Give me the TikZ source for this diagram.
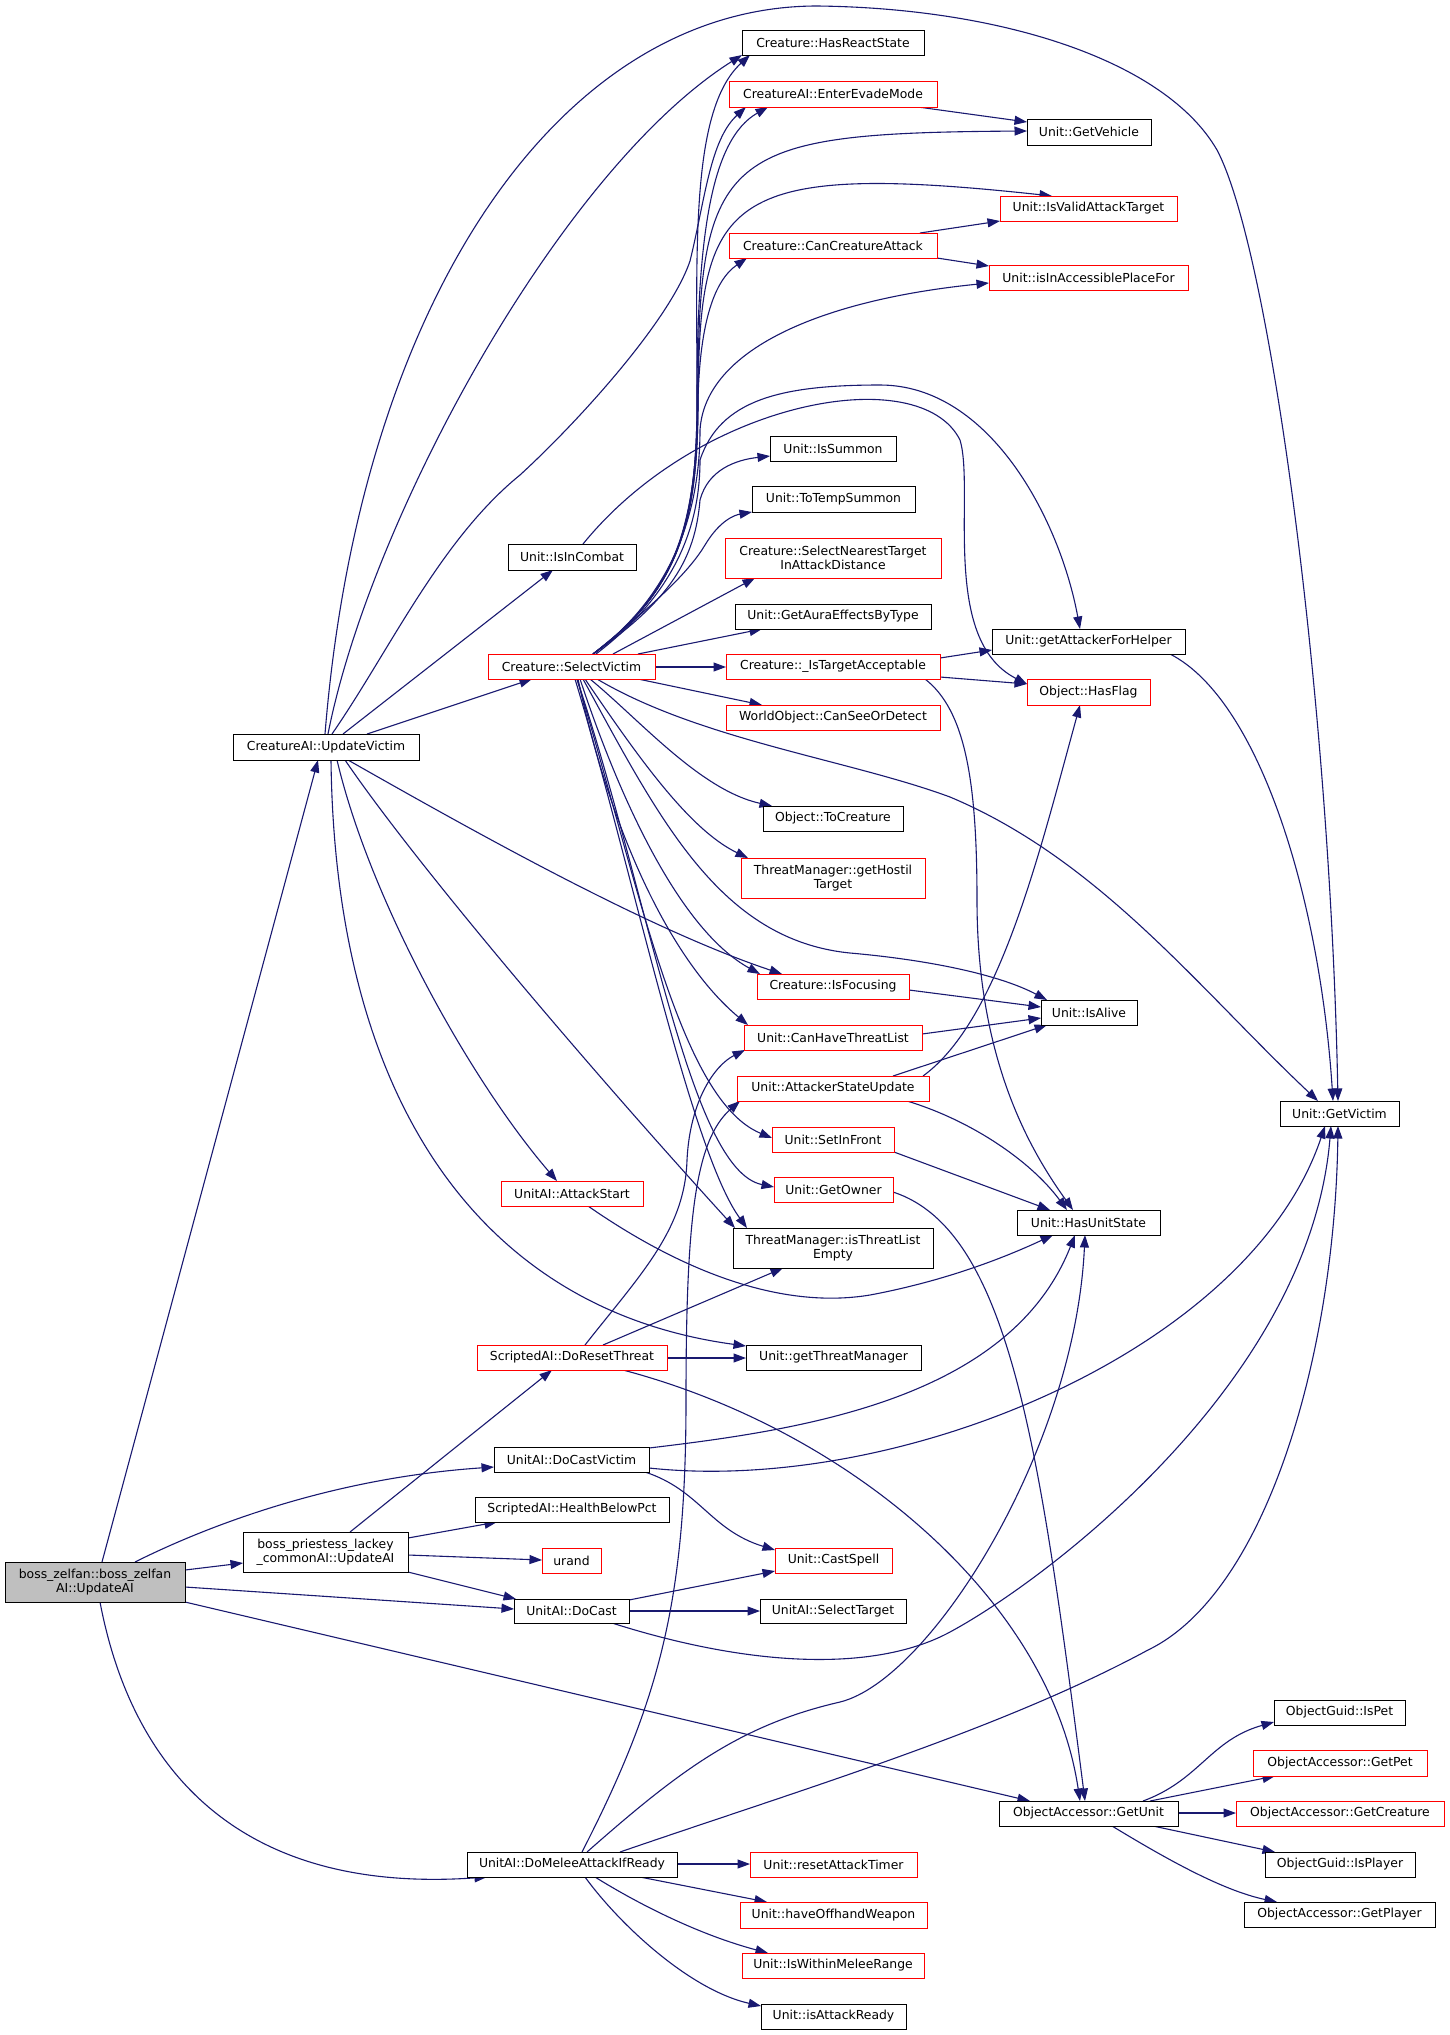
\documentclass[tikz,border=0pt]{standalone}
\usepackage{fontspec}
\newfontfamily\djv{DejaVu Sans}
\usetikzlibrary{arrows.meta,calc}
\definecolor{edgec}{RGB}{25,25,112}
\definecolor{rootfill}{RGB}{191,191,191}
\pgfdeclarelayer{bg}
\pgfsetlayers{bg,main}
\newcommand\mk[7]{\node[#6,minimum width={(#4-#2)*1pt},minimum height={(#5-#3)*1pt}] (#1) at ({(#2+#4)/2},{(#3+#5)/2}) {#7};}
\begin{document}
\begin{tikzpicture}[x=1pt,y=-1pt,
 nd/.style={draw=black,line width=1pt,fill=white,inner sep=0pt,outer sep=0pt,align=center,font=\djv\fontsize{12.4}{14}\selectfont},
 rnd/.style={nd,draw=red},
 root/.style={nd,fill=rootfill},
 ln/.style={draw=edgec,line width=1.1pt,-{Triangle[length=12.5pt,width=9pt]}}]
\useasboundingbox (0,0) rectangle (1449,2035);
\begin{pgfonlayer}{bg}
\fill[white] (0,0) rectangle (1449,2035);
\end{pgfonlayer}
\mk{BZ}{5}{1562}{185}{1602}{root}{boss\_zelfan::boss\_zelfan\\AI::UpdateAI}
\mk{BP}{243}{1532}{408}{1572}{nd}{boss\_priestess\_lackey\\\_commonAI::UpdateAI}
\mk{UV}{233}{734}{419}{760}{nd}{CreatureAI::UpdateVictim}
\mk{DCV}{494}{1447}{649}{1472}{nd}{UnitAI::DoCastVictim}
\mk{HBP}{475}{1497}{669}{1522}{nd}{ScriptedAI::HealthBelowPct}
\mk{UR}{542}{1548}{601}{1573}{rnd}{urand}
\mk{DC}{514}{1599}{629}{1623}{nd}{UnitAI::DoCast}
\mk{DM}{467}{1852}{677}{1877}{nd}{UnitAI::DoMeleeAttackIfReady}
\mk{DRT}{477}{1345}{667}{1370}{rnd}{ScriptedAI::DoResetThreat}
\mk{AS}{501}{1181}{643}{1206}{rnd}{UnitAI::AttackStart}
\mk{SV}{488}{654}{655}{679}{rnd}{Creature::SelectVictim}
\mk{IIC}{508}{544}{636}{570}{nd}{Unit::IsInCombat}
\mk{HRS}{742}{30}{924}{55}{nd}{Creature::HasReactState}
\mk{EEM}{729}{81}{937}{107}{rnd}{CreatureAI::EnterEvadeMode}
\mk{CCA}{729}{233}{937}{258}{rnd}{Creature::CanCreatureAttack}
\mk{IS}{770}{436}{896}{461}{nd}{Unit::IsSummon}
\mk{TTS}{752}{486}{915}{512}{nd}{Unit::ToTempSummon}
\mk{SNT}{725}{538}{941}{578}{rnd}{Creature::SelectNearestTarget\\InAttackDistance}
\mk{GAE}{735}{604}{931}{629}{nd}{Unit::GetAuraEffectsByType}
\mk{ITA}{726}{654}{940}{679}{rnd}{Creature::\_IsTargetAcceptable}
\mk{CSD}{726}{705}{940}{730}{rnd}{WorldObject::CanSeeOrDetect}
\mk{TC}{763}{806}{903}{831}{nd}{Object::ToCreature}
\mk{GHT}{741}{858}{925}{898}{rnd}{ThreatManager::getHostil\\Target}
\mk{IF}{757}{974}{909}{999}{rnd}{Creature::IsFocusing}
\mk{CHT}{744}{1025}{922}{1050}{rnd}{Unit::CanHaveThreatList}
\mk{ASU}{737}{1076}{929}{1101}{rnd}{Unit::AttackerStateUpdate}
\mk{SIF}{772}{1127}{894}{1152}{rnd}{Unit::SetInFront}
\mk{GO}{774}{1177}{893}{1202}{rnd}{Unit::GetOwner}
\mk{ITLE}{733}{1228}{933}{1268}{nd}{ThreatManager::isThreatList\\Empty}
\mk{GTM}{746}{1345}{921}{1370}{nd}{Unit::getThreatManager}
\mk{CS}{775}{1548}{892}{1573}{rnd}{Unit::CastSpell}
\mk{ST}{760}{1599}{906}{1623}{nd}{UnitAI::SelectTarget}
\mk{RAT}{750}{1852}{917}{1877}{rnd}{Unit::resetAttackTimer}
\mk{HOW}{740}{1902}{927}{1928}{rnd}{Unit::haveOffhandWeapon}
\mk{IWMR}{742}{1953}{924}{1978}{rnd}{Unit::IsWithinMeleeRange}
\mk{IAR}{761}{2004}{906}{2029}{nd}{Unit::isAttackReady}
\mk{GV}{1027}{119}{1151}{145}{nd}{Unit::GetVehicle}
\mk{IVAT}{1000}{196}{1177}{221}{rnd}{Unit::IsValidAttackTarget}
\mk{IAPF}{989}{265}{1188}{290}{rnd}{Unit::isInAccessiblePlaceFor}
\mk{GAFH}{992}{629}{1185}{654}{nd}{Unit::getAttackerForHelper}
\mk{HF}{1027}{679}{1150}{705}{rnd}{Object::HasFlag}
\mk{IA}{1041}{1000}{1137}{1025}{nd}{Unit::IsAlive}
\mk{GVic}{1280}{1101}{1399}{1126}{nd}{Unit::GetVictim}
\mk{HUS}{1017}{1210}{1160}{1235}{nd}{Unit::HasUnitState}
\mk{GU}{999}{1801}{1178}{1826}{nd}{ObjectAccessor::GetUnit}
\mk{IP}{1274}{1700}{1405}{1725}{nd}{ObjectGuid::IsPet}
\mk{GP}{1253}{1750}{1427}{1776}{rnd}{ObjectAccessor::GetPet}
\mk{GC}{1236}{1801}{1444}{1826}{rnd}{ObjectAccessor::GetCreature}
\mk{IPl}{1265}{1852}{1415}{1877}{nd}{ObjectGuid::IsPlayer}
\mk{GPl}{1244}{1902}{1435}{1927}{nd}{ObjectAccessor::GetPlayer}
\begin{pgfonlayer}{bg}
% boss_zelfan
\draw[ln] ($(BZ.north west)+(97,0)$) -- ($(UV.north west)+(85,26)$);
\draw[ln] ($(BZ.north west)+(130,0)$) .. controls (205,1527) and (330,1478) .. ($(DCV.north west)+(0,20)$);
\draw[ln] ($(BZ.north west)+(180,8)$) -- ($(BP.north west)+(0,31)$);
\draw[ln] ($(BZ.north west)+(180,25)$) -- ($(DC.north west)+(0,10)$);
\draw[ln] ($(BZ.north west)+(180,40)$) -- ($(GU.north west)+(31,0)$);
\draw[ln] ($(BZ.north west)+(95,40)$) .. controls (130,1760) and (230,1895) .. ($(DM.north west)+(20,25)$);
% boss_priestess
\draw[ln] ($(BP.north west)+(107,0)$) -- ($(DRT.north west)+(75,25)$);
\draw[ln] ($(BP.north west)+(165,6)$) -- ($(HBP.north west)+(22,25)$);
\draw[ln] ($(BP.north west)+(165,23)$) -- ($(UR.north west)+(0,12)$);
\draw[ln] ($(BP.north west)+(165,40)$) -- ($(DC.north west)+(2,0)$);
% DoCastVictim
\draw[ln] ($(DCV.north west)+(155,1)$) .. controls (800,1430) and (1010,1400) .. ($(HUS.north west)+(58,25)$);
\draw[ln] ($(DCV.north west)+(155,21)$) .. controls (900,1495) and (1250,1350) .. ($(GVic.north west)+(45,25)$);
\draw[ln] ($(DCV.north west)+(151,25)$) .. controls (700,1490) and (710,1530) .. ($(CS.north west)+(0,2)$);
% DoCast
\draw[ln] ($(DC.north west)+(115,1)$) -- ($(CS.north west)+(0,23)$);
\draw[ln] ($(DC.north west)+(115,12)$) -- ($(ST.north west)+(0,12)$);
\draw[ln] ($(DC.north west)+(98,24)$) .. controls (760,1670) and (880,1670) .. (950,1632) .. controls (1050,1578) and (1310,1380) .. ($(GVic.north west)+(51,25)$);
% DoMeleeAttackIfReady
\draw[ln] ($(DM.north west)+(210,12)$) -- ($(RAT.north west)+(0,12)$);
\draw[ln] ($(DM.north west)+(173,25)$) -- ($(HOW.north west)+(27,0)$);
\draw[ln] ($(DM.north west)+(128,25)$) .. controls (640,1905) and (700,1935) .. ($(IWMR.north west)+(26,0)$);
\draw[ln] ($(DM.north west)+(118,25)$) .. controls (620,1925) and (690,1990) .. ($(IAR.north west)+(0,2)$);
\draw[ln] ($(DM.north west)+(115,0)$) .. controls (660,1700) and (686,1600) .. (686,1400) .. controls (686,1220) and (695,1140) .. ($(ASU.north west)+(3,25)$);
\draw[ln] ($(DM.north west)+(120,0)$) .. controls (680,1770) and (740,1725) .. (840,1702) .. controls (930,1680) and (1075,1450) .. ($(HUS.north west)+(68,25)$);
\draw[ln] ($(DM.north west)+(153,0)$) .. controls (800,1790) and (1000,1730) .. (1148,1650) .. controls (1268,1592) and (1335,1350) .. ($(GVic.north west)+(58,25)$);
% DoResetThreat
\draw[ln] ($(DRT.north west)+(108,0)$) .. controls (640,1275) and (685,1230) .. (687,1160) .. controls (690,1100) and (715,1065) .. ($(CHT.north west)+(1,25)$);
\draw[ln] ($(DRT.north west)+(126,0)$) -- ($(ITLE.north west)+(50,40)$);
\draw[ln] ($(DRT.north west)+(190,13)$) -- ($(GTM.north west)+(0,13)$);
\draw[ln] ($(DRT.north west)+(146,25)$) .. controls (850,1430) and (1050,1600) .. ($(GU.north west)+(81,0)$);
\draw[ln] ($(GO.north west)+(119,15)$) .. controls (1010,1230) and (1040,1450) .. ($(GU.north west)+(86,0)$);
% UpdateVictim
\draw[ln] ($(UV.north west)+(92,0)$) .. controls (360,300) and (560,6) .. (817,6) .. controls (1000,8) and (1165,60) .. (1217,150) .. controls (1270,250) and (1330,700) .. ($(GVic.north west)+(58,0)$);
\draw[ln] ($(UV.north west)+(95,0)$) .. controls (370,520) and (560,170) .. ($(HRS.north west)+(0,25)$);
\draw[ln] ($(UV.north west)+(99,0)$) .. controls (390,650) and (440,540) .. (520,475) .. controls (580,420) and (670,320) .. (690,261) .. controls (705,200) and (710,140) .. ($(EEM.north west)+(17,26)$);
\draw[ln] ($(UV.north west)+(110,0)$) -- ($(IIC.north west)+(45,26)$);
\draw[ln] ($(UV.north west)+(134,0)$) -- ($(SV.north west)+(44,25)$);
\draw[ln] ($(UV.north west)+(115,26)$) .. controls (480,835) and (650,930) .. ($(IF.north west)+(25,0)$);
\draw[ln] ($(UV.north west)+(112,26)$) .. controls (420,870) and (600,1080) .. ($(ITLE.north west)+(2,0)$);
\draw[ln] ($(UV.north west)+(104,26)$) .. controls (370,900) and (470,1080) .. ($(AS.north west)+(56,0)$);
\draw[ln] ($(UV.north west)+(98,26)$) .. controls (335,1100) and (480,1310) .. ($(GTM.north west)+(0,1)$);
% SelectVictim upward
\draw[ln] ($(SV.north west)+(105,0)$) .. controls (680,590) and (697,520) .. (697,400) .. controls (697,250) and (690,110) .. ($(HRS.north west)+(8,25)$);
\draw[ln] ($(SV.north west)+(105,0)$) .. controls (680,590) and (697,520) .. (697,400) .. controls (697,240) and (710,140) .. ($(EEM.north west)+(39,26)$);
\draw[ln] ($(SV.north west)+(105,0)$) .. controls (680,590) and (698,520) .. (698,380) .. controls (700,150) and (730,133) .. ($(GV.north west)+(0,12)$);
\draw[ln] ($(SV.north west)+(105,0)$) .. controls (680,590) and (698,520) .. (698,400) .. controls (700,200) and (720,160) .. ($(IVAT.north west)+(52,0)$);
\draw[ln] ($(SV.north west)+(105,0)$) .. controls (680,590) and (698,520) .. (698,400) .. controls (700,320) and (715,280) .. ($(CCA.north west)+(18,25)$);
\draw[ln] ($(SV.north west)+(105,0)$) .. controls (680,590) and (700,500) .. (700,430) .. controls (705,350) and (820,300) .. ($(IAPF.north west)+(0,18)$);
\draw[ln] ($(SV.north west)+(108,0)$) .. controls (680,590) and (700,520) .. (700,460) .. controls (720,400) and (780,385) .. (880,385) .. controls (990,385) and (1060,520) .. ($(GAFH.north west)+(88,0)$);
\draw[ln] ($(SV.north west)+(105,0)$) .. controls (670,600) and (695,560) .. (700,500) .. controls (708,470) and (735,460) .. ($(IS.north west)+(0,20)$);
\draw[ln] ($(SV.north west)+(105,0)$) .. controls (660,600) and (690,570) .. (705,545) .. controls (720,520) and (735,515) .. ($(TTS.north west)+(0,26)$);
\draw[ln] ($(SV.north west)+(125,0)$) -- ($(SNT.north west)+(30,40)$);
\draw[ln] ($(SV.north west)+(150,0)$) -- ($(GAE.north west)+(27,25)$);
\draw[ln] ($(SV.north west)+(167,13)$) -- ($(ITA.north west)+(0,13)$);
% SelectVictim downward
\draw[ln] ($(SV.north west)+(150,25)$) -- ($(CSD.north west)+(36,0)$);
\draw[ln] ($(SV.north west)+(102,25)$) .. controls (640,720) and (700,790) .. ($(TC.north west)+(9,0)$);
\draw[ln] ($(SV.north west)+(97,25)$) .. controls (640,760) and (690,830) .. ($(GHT.north west)+(7,0)$);
\draw[ln] ($(SV.north west)+(95,25)$) .. controls (660,820) and (720,940) .. (850,953) .. controls (930,960) and (1000,975) .. ($(IA.north west)+(6,0)$);
\draw[ln] ($(SV.north west)+(92,25)$) .. controls (620,800) and (680,930) .. ($(IF.north west)+(3,0)$);
\draw[ln] ($(SV.north west)+(90,25)$) .. controls (610,830) and (670,960) .. ($(CHT.north west)+(4,0)$);
\draw[ln] ($(SV.north west)+(89,25)$) .. controls (640,890) and (680,1100) .. ($(SIF.north west)+(0,11)$);
\draw[ln] ($(SV.north west)+(89,25)$) .. controls (650,900) and (690,1170) .. ($(GO.north west)+(0,10)$);
\draw[ln] ($(SV.north west)+(87,25)$) .. controls (630,860) and (690,1150) .. ($(ITLE.north west)+(14,0)$);
\draw[ln] ($(SV.north west)+(109,25)$) .. controls (700,740) and (850,760) .. (950,797) .. controls (1100,860) and (1200,990) .. ($(GVic.north west)+(38,0)$);
% IsInCombat
\draw[ln] ($(IIC.north west)+(75,0)$) .. controls (700,400) and (920,360) .. (960,440) .. controls (975,490) and (940,640) .. ($(HF.north west)+(0,5)$);
% others
\draw[ln] ($(EEM.north west)+(189,26)$) -- ($(GV.north west)+(0,3)$);
\draw[ln] ($(CCA.north west)+(191,0)$) -- ($(IVAT.north west)+(0,25)$);
\draw[ln] ($(CCA.north west)+(208,25)$) -- ($(IAPF.north west)+(0,1)$);
\draw[ln] ($(ITA.north west)+(214,4)$) -- ($(GAFH.north west)+(0,21)$);
\draw[ln] ($(ITA.north west)+(214,23)$) -- ($(HF.north west)+(0,5)$);
\draw[ln] ($(ITA.north west)+(199,25)$) .. controls (965,710) and (977,780) .. (977,900) .. controls (977,1060) and (1030,1150) .. ($(HUS.north west)+(56,0)$);
\draw[ln] ($(GAFH.north west)+(178,25)$) .. controls (1260,700) and (1320,900) .. ($(GVic.north west)+(53,0)$);
\draw[ln] ($(IF.north west)+(152,16)$) -- ($(IA.north west)+(0,7)$);
\draw[ln] ($(CHT.north west)+(178,9)$) -- ($(IA.north west)+(0,18)$);
\draw[ln] ($(ASU.north west)+(156,0)$) -- ($(IA.north west)+(6,25)$);
\draw[ln] ($(ASU.north west)+(186,0)$) .. controls (1000,1020) and (1040,850) .. ($(HF.north west)+(53,26)$);
\draw[ln] ($(ASU.north west)+(170,25)$) .. controls (970,1120) and (1030,1160) .. ($(HUS.north west)+(50,0)$);
\draw[ln] ($(SIF.north west)+(122,25)$) -- ($(HUS.north west)+(33,0)$);
\draw[ln] ($(AS.north west)+(87,25)$) .. controls (680,1270) and (780,1310) .. (870,1295) .. controls (950,1280) and (1010,1255) .. ($(HUS.north west)+(36,25)$);
% GetUnit
\draw[ln] ($(GU.north west)+(144,0)$) .. controls (1200,1780) and (1210,1740) .. ($(IP.north west)+(0,22)$);
\draw[ln] ($(GU.north west)+(151,0)$) -- ($(GP.north west)+(22,26)$);
\draw[ln] ($(GU.north west)+(179,12)$) -- ($(GC.north west)+(0,12)$);
\draw[ln] ($(GU.north west)+(154,25)$) -- ($(IPl.north west)+(10,0)$);
\draw[ln] ($(GU.north west)+(113,25)$) .. controls (1160,1855) and (1220,1890) .. ($(GPl.north west)+(33,0)$);
\end{pgfonlayer}
\end{tikzpicture}
\end{document}
